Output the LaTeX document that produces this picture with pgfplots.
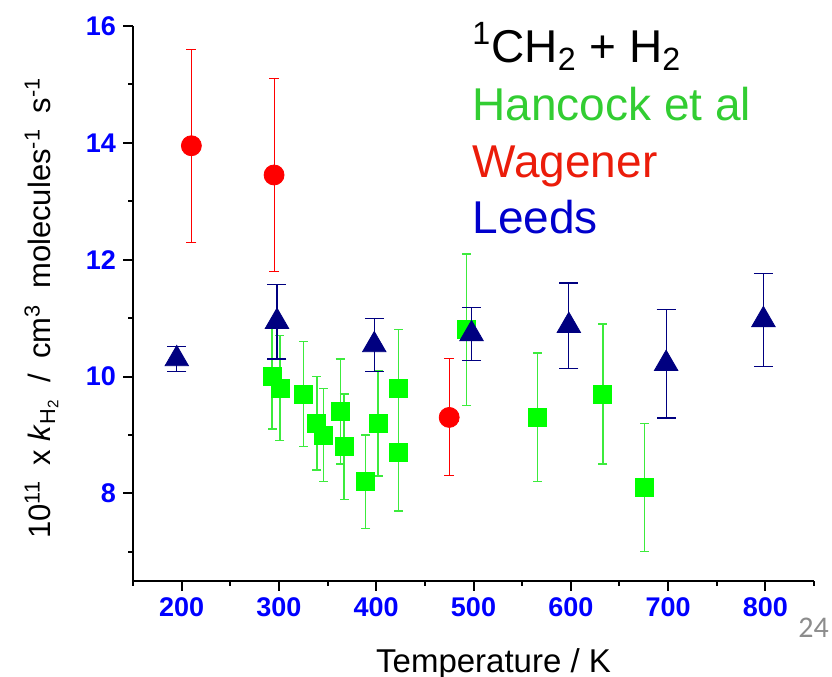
\documentclass[border=0pt]{standalone}
\usepackage{pgfplots}
\pgfplotsset{compat=1.18}
\usepackage{fontspec}
\setmainfont{Liberation Sans}
\newfontfamily\calib{Carlito}
\usetikzlibrary{calc}

\definecolor{tickblue}{RGB}{0,0,255}
\definecolor{sqgreen}{RGB}{0,255,0}
\definecolor{bargreen}{RGB}{60,235,60}
\definecolor{navy}{RGB}{0,0,128}
\definecolor{txtgreen}{RGB}{50,205,50}
\definecolor{txtred}{RGB}{235,28,10}
\definecolor{txtblue}{RGB}{0,0,204}

\begin{document}
\begin{tikzpicture}
\begin{axis}[
    scale only axis,
    width=340.5pt, height=277.5pt,
    xmin=150, xmax=850,
    ymin=6.5, ymax=16,
    axis x line*=bottom,
    axis y line*=left,
    axis line style={black, line width=1pt},
    xtick={200,300,...,800},
    minor xtick={150,250,...,850},
    ytick={8,10,...,16},
    minor ytick={7,9,...,15},
    tick align=outside,
    major tick length=5pt,
    minor tick length=2.5pt,
    every tick/.style={black, line width=1pt},
    ticklabel style={font=\fontsize{13.5}{16}\selectfont\bfseries, text=tickblue},
    /pgf/number format/assume math mode=true,
    clip=false,
]

% Hancock et al
\addplot[only marks, mark=square*, mark size=4.5pt,
    mark options={draw=sqgreen, fill=sqgreen},
    error bars/.cd, y dir=both, y explicit,
    error bar style={bargreen, line width=0.7pt},
    error mark options={rotate=90, bargreen, mark size=2.25pt, line width=0.7pt}]
coordinates {
(293,10.0) +- (0,0.9)
(301,9.8) +- (0,0.9)
(325,9.7) +- (0,0.9)
(339,9.2) +- (0,0.8)
(346,9.0) +- (0,0.8)
(363,9.4) +- (0,0.9)
(367,8.8) +- (0,0.9)
(389,8.2) +- (0,0.8)
(402,9.2) +- (0,0.9)
(423,9.8) +- (0,1.0)
(423,8.7) +- (0,1.0)
(493,10.8) +- (0,1.3)
(566,9.3) +- (0,1.1)
(633,9.7) +- (0,1.2)
(676,8.1) +- (0,1.1)
};

% Wagener
\addplot[only marks, mark=*, mark size=5pt,
    mark options={draw=red, fill=red},
    error bars/.cd, y dir=both, y explicit,
    error bar style={red, line width=0.5pt},
    error mark options={rotate=90, red, mark size=2.5pt, line width=0.5pt}]
coordinates {
(210,13.95) +- (0,1.65)
(295,13.45) +- (0,1.65)
(475,9.3) +- (0,1.0)
};

% Leeds
\addplot[only marks, mark=triangle*, mark size=6.75pt,
    mark options={draw=navy, fill=navy},
    error bars/.cd, y dir=both, y explicit,
    error bar style={navy, line width=0.6pt},
    error mark options={rotate=90, navy, mark size=4.75pt, line width=0.6pt}]
coordinates {
(195,10.3) +- (0,0.21)
(298,10.94) +- (0,0.64)
(398,10.54) +- (0,0.45)
(498,10.73) +- (0,0.45)
(598,10.87) +- (0,0.73)
(698,10.22) +- (0,0.93)
(798,10.97) +- (0,0.80)
};

\node[anchor=base west, inner sep=0pt, font=\fontsize{23}{27}\selectfont] at (axis cs:498.5,15.37)
    {\textsuperscript{1}CH\textsubscript{2} + H\textsubscript{2}};
\node[anchor=base west, inner sep=0pt, font=\fontsize{23}{27}\selectfont, text=txtgreen] at (axis cs:498.5,14.39) {Hancock et al};
\node[anchor=base west, inner sep=0pt, font=\fontsize{23}{27}\selectfont, text=txtred] at (axis cs:498.5,13.40) {Wagener};
\node[anchor=base west, inner sep=0pt, font=\fontsize{23}{27}\selectfont, text=txtblue] at (axis cs:498.5,12.44) {Leeds};

\node[anchor=base, inner sep=0pt, rotate=90, font=\fontsize{15.5}{18}\selectfont] at (axis cs:64.7,11.17)
    {10\textsuperscript{11}\enspace x \textit{k}\textsubscript{H\textsubscript{2}}\enspace /\enspace cm\textsuperscript{3}\enspace molecules\textsuperscript{-1}\enspace s\textsuperscript{-1}};
\node[anchor=base, inner sep=0pt, font=\fontsize{16.5}{20}\selectfont] at (axis cs:520.6,4.94) {Temperature / K};
\node[anchor=base west, inner sep=0pt, font=\calib\fontsize{15}{18}\selectfont, text=black!45] at (axis cs:833.6,5.54) {24};

\coordinate (bl) at (axis cs:150,6.5);
\coordinate (tr) at (axis cs:850,16);
\end{axis}
\pgfresetboundingbox
\path[use as bounding box] ($(bl)+(-66.5pt,-48pt)$) rectangle ($(tr)+(9pt,13pt)$);
\end{tikzpicture}
\end{document}
